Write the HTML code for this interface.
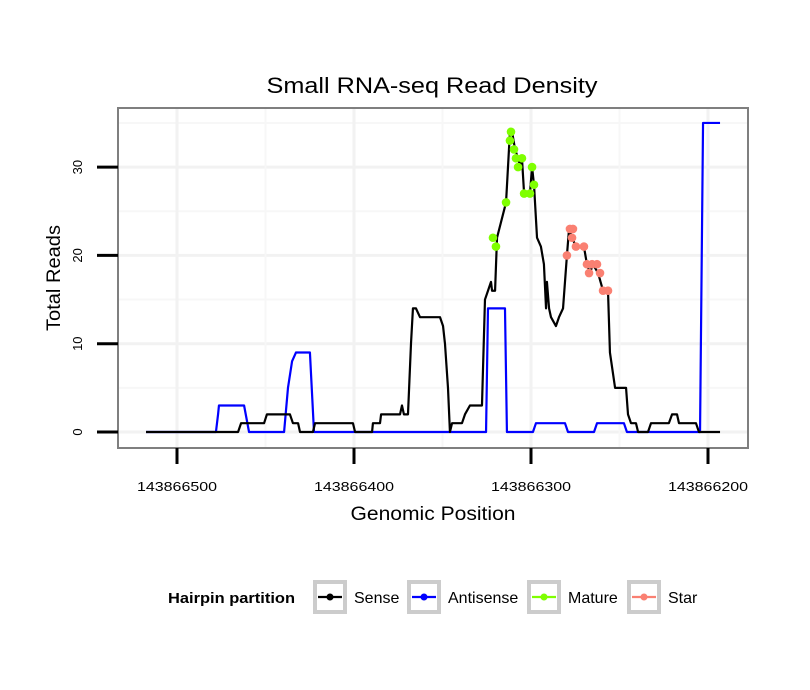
<!DOCTYPE html>
<html><head><meta charset="utf-8"><style>body{margin:0;background:#fff}svg{display:block;font-family:"Liberation Sans",sans-serif}</style></head>
<body>
<svg id="chart" width="810" height="690">
</svg>
<script>
const BASE = 143866000;
const senseX = [517.5,465.5,463.8,450.8,449.2,436.2,434.5,431.6,430.5,423.2,422,400.6,399.4,389.8,389.3,385.3,384.7,374,372.9,371.8,369.5,367.8,366.7,365,362.7,351.4,349.7,348.6,346.9,345.8,344.6,339,337.3,334.5,327.7,326,324.3,322.6,322,320.3,319.2,314.1,311.9,310.7,309,307.3,306.2,305.1,303.9,300.6,299.4,298.3,296.6,294.4,292.7,291.5,291,289.8,288.7,285.9,284.2,281.9,279.7,278.5,276.8,274.6,270.1,268.4,266.7,265,262.1,259.3,256.5,255.4,252.5,246.3,245.2,243.5,240.7,239.5,233.9,232.2,222.1,220.3,217.5,216.4,206.8,205.1,193.2];
const senseY = [0,0,1,1,2,2,1,1,0,0,1,1,0,0,1,1,2,2,3,2,2,10,14,14,13,13,12,10,5,0,1,1,2,3,3,15,16,17,16,16,22,26,34,34,32,31,30,31,27,27,30,28,22,21,19,14,17,14,13,12,13,14,20,23,22,21,21,19,18,19,18,16,16,9,5,5,2,1,1,0,0,1,1,2,2,1,1,0,0];
const antiX = [517.5,478,476.8,476.3,462.1,459.3,439.5,437.3,435,432.8,424.9,422.6,325.4,324.3,314.7,313.6,298.9,297.2,280.8,279.1,264.4,262.7,247.5,245.8,204.5,202.8,193.2];
const antiY = [0,0,2,3,3,0,0,5,8,9,9,0,0,14,14,0,0,1,1,0,0,1,1,0,0,35,35];
const matureX = [321.5,319.8,314.1,311.9,311.3,309.6,308.5,307.3,305.1,303.9,300.6,299.4,298.3];
const matureY = [22,21,26,33,34,32,31,30,31,27,27,30,28];
const starX = [279.7,278,276.3,276.8,274.6,270.1,268.4,265.5,262.7,267.2,261,259.3,256.5];
const starY = [20,23,23,22,21,21,19,19,19,18,18,16,16];
const xTicks = [143866500,143866400,143866300,143866200];
const yTicks = [0,10,20,30];

const NS='http://www.w3.org/2000/svg', svg=document.getElementById('chart');
const L=118,R=748,T=108,B=448;
function xs(off){return 177+(500-off)*1.77;}
function xg(g){return xs(g-BASE);}
function ys(v){return 432-v*8.83;}
function mk(tag,attrs,parent){const e=document.createElementNS(NS,tag);for(const k in attrs)e.setAttribute(k,attrs[k]);(parent||svg).appendChild(e);return e;}

let t=mk('text',{x:432,y:93,'text-anchor':'middle','font-size':22,textLength:331,lengthAdjust:'spacingAndGlyphs'});t.textContent='Small RNA-seq Read Density';


let p=mk('rect',{x:L,y:T,width:R-L,height:B-T,fill:'#fff'});


[5,15,25,35].forEach(v=>{const g=mk('line',{x1:L,x2:R,y1:ys(v),y2:ys(v),stroke:'#f7f7f7','stroke-width':2});

});
yTicks.forEach(v=>{const g=mk('line',{x1:L,x2:R,y1:ys(v),y2:ys(v),stroke:'#f2f2f2','stroke-width':3});

});
xTicks.forEach(v=>{const g=mk('line',{x1:xg(v),x2:xg(v),y1:T,y2:B,stroke:'#f2f2f2','stroke-width':3});

});
[143866550,143866450,143866350,143866250,143866150].forEach(v=>{const x=xg(v);if(x>L&&x<R){const g=mk('line',{x1:x,x2:x,y1:T,y2:B,stroke:'#f7f7f7','stroke-width':2});

}});
function poly(X,Y,color,name){const pts=X.map((x,i)=>xs(x)+','+ys(Y[i])).join(' ');const l=mk('polyline',{points:pts,fill:'none',stroke:color,'stroke-width':2.2,'stroke-linejoin':'round'});

}
poly(antiX,antiY,'#0000ff','antisense-line');
poly(senseX,senseY,'#000','sense-line');
matureX.forEach((x,i)=>{const c=mk('circle',{cx:xs(x),cy:ys(matureY[i]),r:4.3,fill:'#7fff00'});

});
starX.forEach((x,i)=>{const c=mk('circle',{cx:xs(x),cy:ys(starY[i]),r:4.3,fill:'#fa8072'});

});
let br=mk('rect',{x:L,y:T,width:R-L,height:B-T,fill:'none',stroke:'#7f7f7f','stroke-width':2});


xTicks.forEach(v=>{const x=xg(v);const tk=mk('line',{x1:x,x2:x,y1:B,y2:B+16,stroke:'#000','stroke-width':3});


const lb=mk('text',{x:x,y:B+43,'text-anchor':'middle','font-size':13,textLength:80,lengthAdjust:'spacingAndGlyphs'});lb.textContent=v;

});
yTicks.forEach(v=>{const y=ys(v);const tk=mk('line',{x1:L-21,x2:L,y1:y,y2:y,stroke:'#000','stroke-width':3});


const lb=mk('text',{x:0,y:0,'text-anchor':'middle','font-size':13,transform:`translate(${L-36},${y}) rotate(-90)`});lb.textContent=v;

});
let xt=mk('text',{x:433,y:520,'text-anchor':'middle','font-size':19,textLength:165,lengthAdjust:'spacingAndGlyphs'});xt.textContent='Genomic Position';


let yt=mk('text',{x:0,y:0,'text-anchor':'middle','font-size':19,textLength:106,lengthAdjust:'spacingAndGlyphs',transform:'translate(60,278) rotate(-90)'});yt.textContent='Total Reads';


let lt=mk('text',{x:168,y:603,'font-size':15,'font-weight':'bold',textLength:127,lengthAdjust:'spacingAndGlyphs'});lt.textContent='Hairpin partition';


const legNames=['Sense','Antisense','Mature','Star'];
const legColors=['#000','#0000ff','#7fff00','#fa8072'];
const legX=[313,407,527,627];
legNames.forEach((n,i)=>{const g=mk('g',{});


mk('rect',{x:legX[i]+2,y:582,width:30,height:30,fill:'#fff',stroke:'#cccccc','stroke-width':4},g);
mk('line',{x1:legX[i]+5,x2:legX[i]+29,y1:597,y2:597,stroke:legColors[i],'stroke-width':2.2},g);
mk('circle',{cx:legX[i]+17,cy:597,r:3.5,fill:legColors[i]},g);
const tx=mk('text',{x:legX[i]+41,y:603,'font-size':16},g);tx.textContent=n;});
</script>
</body></html>
